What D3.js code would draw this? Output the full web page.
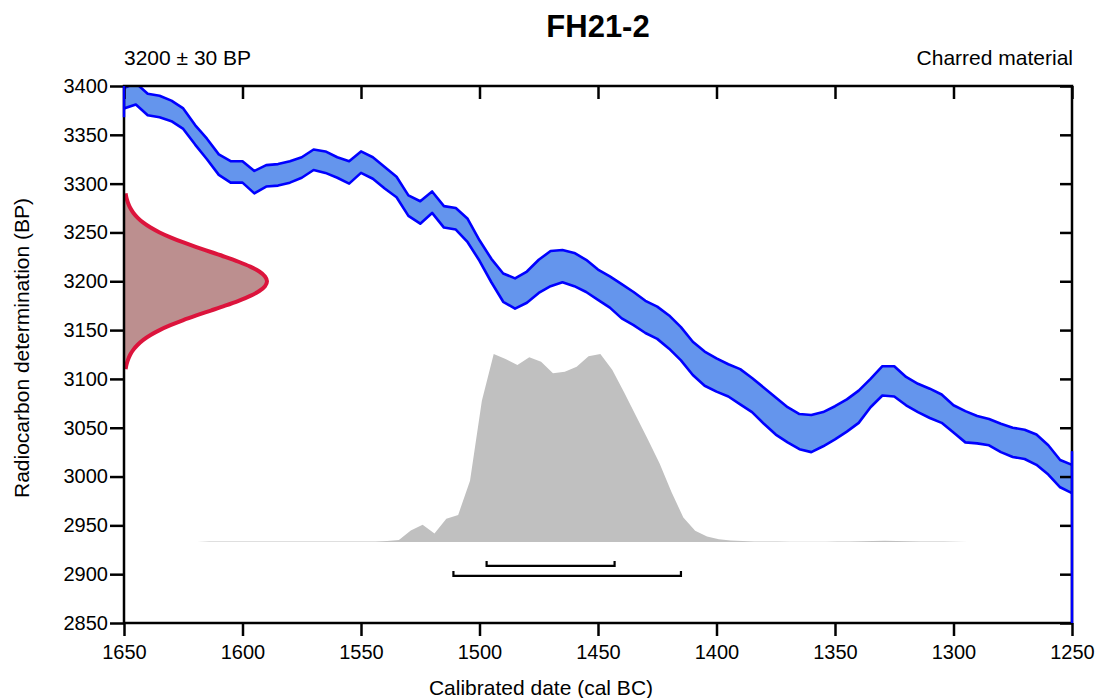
<!DOCTYPE html>
<html><head><meta charset="utf-8">
<script src="https://cdn.jsdelivr.net/npm/d3@7"></script>
<style>
body{margin:0;background:#fff}
svg{display:block}
text{font-family:"Liberation Sans",Arial,sans-serif;fill:#000}
</style>
</head><body><svg id="c" width="1096" height="698"></svg>
<script>
const title = "FH21-2";
const sampleLabel = "3200 ± 30 BP";
const materialLabel = "Charred material";
const xLabel = "Calibrated date (cal BC)";
const yLabel = "Radiocarbon determination (BP)";
const xTicks = [1650,1600,1550,1500,1450,1400,1350,1300,1250];
const yTicks = [2850,2900,2950,3000,3050,3100,3150,3200,3250,3300,3350,3400];

// calibration curve band (BP, upper and lower edge)
const calYears = [1650,1645,1640,1635,1630,1625,1620,1615,1610,1605,1600,1595,1590,1585,1580,1575,1570,1565,1560,1555,1550,1545,1540,1535,1530,1525,1520,1515,1510,1505,1500,1495,1490,1485,1480,1475,1470,1465,1460,1455,1450,1445,1440,1435,1430,1425,1420,1415,1410,1405,1400,1395,1390,1385,1380,1375,1370,1365,1360,1355,1350,1345,1340,1335,1330,1325,1320,1315,1310,1305,1300,1295,1290,1285,1280,1275,1270,1265,1260,1255,1250];
const calUpper = [3398,3403,3392,3390,3385,3377,3360,3346,3330,3323,3323,3313,3319,3320,3323,3327,3335,3333,3327,3323,3333,3327,3317,3307,3288,3282,3292,3277,3275,3264,3242,3223,3208,3203,3210,3222,3231,3232,3229,3222,3212,3205,3197,3189,3180,3174,3165,3153,3138,3128,3121,3115,3110,3101,3091,3081,3071,3064,3063,3066,3072,3079,3088,3100,3113,3113,3102,3095,3090,3084,3073,3067,3062,3059,3054,3050,3048,3043,3032,3017,3012];
const calLower = [3377,3381,3370,3368,3364,3356,3340,3325,3309,3301,3301,3290,3297,3298,3301,3306,3314,3311,3306,3300,3311,3305,3295,3286,3267,3259,3270,3255,3253,3240,3221,3199,3179,3172,3178,3188,3195,3199,3195,3189,3181,3173,3162,3155,3147,3141,3131,3119,3104,3093,3087,3082,3074,3066,3054,3043,3035,3028,3025,3031,3038,3046,3055,3071,3083,3082,3073,3066,3060,3055,3045,3035,3034,3032,3025,3020,3018,3012,3002,2989,2983];

// radiocarbon measurement distribution (relative density)
const gaussBP = [3290,3285,3280,3275,3270,3265,3260,3255,3250,3245,3240,3235,3230,3225,3220,3215,3210,3205,3200,3195,3190,3185,3180,3175,3170,3165,3160,3155,3150,3145,3140,3135,3130,3125,3120,3115,3110];
const gaussDensity = [0.011,0.018,0.029,0.044,0.066,0.096,0.135,0.186,0.249,0.325,0.411,0.506,0.607,0.707,0.801,0.883,0.946,0.986,1.000,0.986,0.946,0.883,0.801,0.707,0.607,0.506,0.411,0.325,0.249,0.186,0.135,0.096,0.066,0.044,0.029,0.018,0.011];

// calibrated probability distribution (relative)
const distYears = [1619,1614,1609,1604,1599,1594,1589,1584,1579,1574,1569,1564,1559,1554,1549,1544,1539,1534,1529,1524,1519,1514,1509,1504,1499,1494,1489,1484,1479,1474,1469,1464,1459,1454,1449,1444,1439,1434,1429,1424,1419,1414,1409,1404,1399,1394,1389,1384,1379,1374,1369,1364,1359,1354,1349,1344,1339,1334,1329,1324,1319,1314,1309,1304,1299,1294];
const distProb = [0,0.002,0.002,0.003,0.003,0.003,0.002,0.002,0.002,0.002,0.002,0.002,0.002,0.002,0.003,0.003,0.005,0.011,0.061,0.091,0.045,0.123,0.144,0.325,0.751,1.0,0.973,0.941,0.982,0.959,0.897,0.906,0.932,0.988,1.0,0.916,0.796,0.671,0.547,0.418,0.266,0.130,0.059,0.029,0.014,0.008,0.005,0.003,0.002,0.002,0.001,0.001,0.001,0.001,0.002,0.003,0.004,0.005,0.006,0.005,0.004,0.003,0.002,0.002,0.001,0];

// highest probability ranges (cal BC)
const rangeNames = ["68.2%","95.4%"];
const rangeFrom = [1497,1511];
const rangeTo = [1443,1415];

// curve outline segments running along the plot edges
const edgeYears = [1650,1250];
const edgeFrom = [3400,3026];
const edgeTo = [3368,2850];

const svg = d3.select("#c");
const L = 124, R = 1072, T = 86, B = 623;
const x = d3.scaleLinear().domain([1650,1250]).range([L,R]);
const y = d3.scaleLinear().domain([2850,3400]).range([B,T]);
const gx = d3.scaleLinear().domain([0,1]).range([x(1650), x(1650)+143]);
const distBase = 2933;
const dy = d3.scaleLinear().domain([0,1]).range([y(distBase), y(distBase)-188]);

svg.append("defs").append("clipPath").attr("id","clip")
  .append("rect").attr("x",L).attr("y",T).attr("width",R-L).attr("height",B-T);

const plot = svg.append("g").attr("clip-path","url(#clip)");

// gray calibrated distribution
const dist = distYears.map((d,i)=>({year:d,p:distProb[i]}));
plot.append("path").datum(dist)
  .attr("d", d3.area().x(d=>x(d.year)).y0(dy(0)).y1(d=>dy(d.p)))
  .attr("fill","#c0c0c0");

// red measurement gaussian
const gauss = gaussBP.map((d,i)=>({bp:d,v:gaussDensity[i]}));
plot.append("path").datum(gauss)
  .attr("d", d3.area().y(d=>y(d.bp)).x0(gx(0)).x1(d=>gx(d.v)).curve(d3.curveMonotoneY))
  .attr("fill","#bc8f8f");
plot.append("path").datum(gauss)
  .attr("d", d3.line().y(d=>y(d.bp)).x(d=>gx(d.v)).curve(d3.curveMonotoneY))
  .attr("fill","none").attr("stroke","#dc143c").attr("stroke-width",4);

// calibration curve
const cal = calYears.map((d,i)=>({year:d,hi:calUpper[i],lo:calLower[i]}));
plot.append("path").datum(cal)
  .attr("d", d3.area().x(d=>x(d.year)).y0(d=>y(d.lo)).y1(d=>y(d.hi)))
  .attr("fill","#6495ed");
plot.append("path").datum(cal)
  .attr("d", d3.line().x(d=>x(d.year)).y(d=>y(d.hi)))
  .attr("fill","none").attr("stroke","#0000ff").attr("stroke-width",2.6).attr("stroke-linejoin","round");
plot.append("path").datum(cal)
  .attr("d", d3.line().x(d=>x(d.year)).y(d=>y(d.lo)))
  .attr("fill","none").attr("stroke","#0000ff").attr("stroke-width",2.6).attr("stroke-linejoin","round");

// range brackets
const bracketY = [y(distBase) + 24, y(distBase) + 34];
rangeNames.forEach((n,i)=>{
  const yy = bracketY[i];
  const x1 = x(rangeFrom[i]), x2 = x(rangeTo[i]);
  svg.append("path")
    .attr("d", `M${x1},${yy-5}V${yy}H${x2}V${yy-5}`)
    .attr("fill","none").attr("stroke","#000").attr("stroke-width",2.2);
});

// axes
function styleAxis(g){
  g.select(".domain").remove();
  g.selectAll(".tick line").attr("stroke","#000").attr("stroke-width",2.5);
  g.selectAll(".tick text").attr("font-size",20).attr("fill","#000")
    .attr("font-family","'Liberation Sans',Arial,sans-serif");
}
svg.append("g").attr("transform",`translate(0,${B})`)
  .call(d3.axisBottom(x).tickValues(xTicks).tickSize(13).tickPadding(9).tickFormat(d3.format("d")))
  .call(styleAxis);
svg.append("g").attr("transform",`translate(0,${T})`)
  .call(d3.axisTop(x).tickValues(xTicks).tickSize(-13).tickFormat(""))
  .call(styleAxis);
svg.append("g").attr("transform",`translate(${L},0)`)
  .call(d3.axisLeft(y).tickValues(yTicks).tickSize(14).tickPadding(2).tickFormat(d3.format("d")))
  .call(styleAxis);
svg.append("g").attr("transform",`translate(${R},0)`)
  .call(d3.axisRight(y).tickValues(yTicks).tickSize(-12).tickFormat(""))
  .call(styleAxis);

svg.append("rect").attr("x",L).attr("y",T).attr("width",R-L).attr("height",B-T)
  .attr("fill","none").attr("stroke","#000").attr("stroke-width",2.5);

// curve outline along edges
edgeYears.forEach((yr,i)=>{
  svg.append("line").attr("x1",x(yr)).attr("x2",x(yr))
    .attr("y1",y(edgeFrom[i])).attr("y2",y(edgeTo[i]))
    .attr("stroke","#0000ff").attr("stroke-width",2.5);
});

// texts
svg.append("text").attr("x",(L+R)/2).attr("y",37).attr("text-anchor","middle")
  .attr("font-size",31).attr("font-weight","bold").text(title);
svg.append("text").attr("x",L).attr("y",65).attr("font-size",21).text(sampleLabel);
svg.append("text").attr("x",R+1).attr("y",65).attr("text-anchor","end").attr("font-size",21).text(materialLabel);
svg.append("text").attr("x",541).attr("y",695).attr("text-anchor","middle").attr("font-size",21).text(xLabel);
svg.append("text").attr("transform",`translate(29,348) rotate(-90)`).attr("text-anchor","middle")
  .attr("font-size",21).text(yLabel);
</script>
</body></html>
